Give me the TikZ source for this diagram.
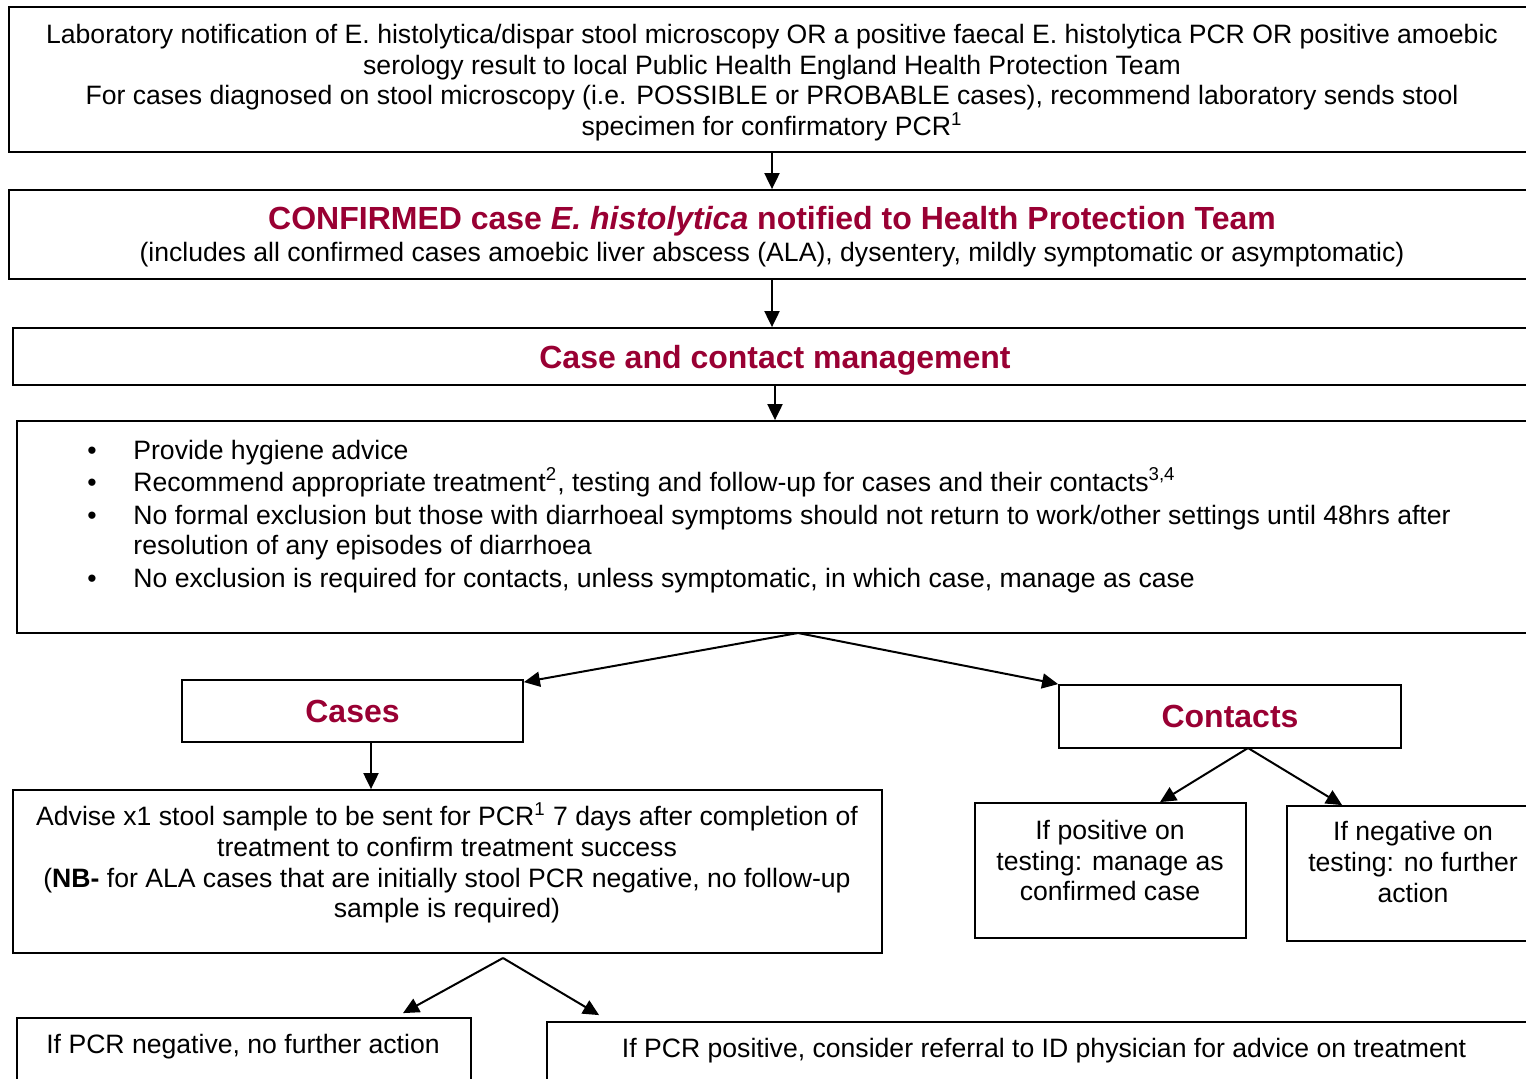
\documentclass[tikz,border=0pt]{standalone}
\usepackage{fontspec}
\setmainfont{Liberation Sans}
\usepackage{tikz}
\usetikzlibrary{arrows.meta}
\definecolor{phered}{RGB}{153,0,51}

\begin{document}
\begin{tikzpicture}[x=0.5pt,y=-0.5pt,
        font=\fontsize{13.3}{15.35}\selectfont,
        box/.style={draw,line width=0.9pt,inner sep=0pt,align=center},
        head/.style={font=\fontsize{16}{19}\selectfont\bfseries,text=phered},
        flow/.style={-{Triangle[length=8pt,width=7.5pt]},line width=1pt}]

        \useasboundingbox (0,0) rectangle (1526,1078);
        \clip (0,0) rectangle (1526,1078);

        \node[box,minimum width=763pt,minimum height=72.5pt] (lab) at (772,79.5) {\rule{0pt}{12.7pt}Laboratory notification of E. histolytica/dispar stool microscopy OR a positive faecal E. histolytica PCR OR positive amoebic\\
            serology result to local Public Health England Health Protection Team\\
            For cases diagnosed on stool microscopy (i.e. POSSIBLE or PROBABLE cases), recommend laboratory sends stool\\
            specimen for confirmatory PCR\textsuperscript{1}};
        \node[box,minimum width=763pt,minimum height=44.5pt] (conf) at (772,234.5) {{\fontsize{16}{19}\selectfont\bfseries\color{phered}\rule{0pt}{14pt}CONFIRMED case \textit{E. histolytica} notified to Health Protection Team}\\[0.5pt]
            (includes all confirmed cases amoebic liver abscess (ALA), dysentery, mildly symptomatic or asymptomatic)};
        \node[box,head,text depth=0pt,minimum width=762pt,minimum height=28.5pt] (mgmt) at (775,356.5) {Case and contact management};

        \node[box,minimum width=756.5pt,minimum height=106pt] (advice) at (773.5,527) {};
        \node[anchor=north west,align=left,inner sep=0pt] (advtext) at (87,440) {%
            \makebox[23pt][l]{\textbullet}Provide hygiene advice\\[0.5pt]
            \makebox[23pt][l]{\textbullet}Recommend appropriate treatment\textsuperscript{2}, testing and follow-up for cases and their contacts\textsuperscript{3,4}\\[1pt]
            \makebox[23pt][l]{\textbullet}No formal exclusion but those with diarrhoeal symptoms should not return to work/other settings until 48hrs after\\
            \hspace*{23pt}resolution of any episodes of diarrhoea\\[1pt]
            \makebox[23pt][l]{\textbullet}No exclusion is required for contacts, unless symptomatic, in which case, manage as case};

        \node[box,head,minimum width=170.5pt,minimum height=31pt] (cases) at (352.5,711) {Cases};
        \node[box,head,minimum width=171pt,minimum height=31.5pt] (contacts) at (1230,716.5) {Contacts};

        \node[box,minimum width=434.5pt,minimum height=81.5pt] (followup) at (447.5,871.5) {};
        \node[align=center,inner sep=0pt] (followtext) at (447,863) {Advise x1 stool sample to be sent for PCR\textsuperscript{1} 7 days after completion of\\
            treatment to confirm treatment success\\
            (\textbf{NB-} for ALA cases that are initially stool PCR negative, no follow-up\\
            sample is required)};

        \node[box,minimum width=135.5pt,minimum height=67.5pt] (pos) at (1110.5,870.5) {};
        \node[align=center,inner sep=0pt] (postext) at (1110,860.5) {If positive on\\ testing: manage as\\ confirmed case};
        \node[box,minimum width=126pt,minimum height=67.5pt] (neg) at (1413,873.5) {};
        \node[align=center,inner sep=0pt] (negtext) at (1413,862) {If negative on\\ testing: no further\\ action};

        \node[box,minimum width=227pt,minimum height=46pt] (pcrneg) at (244,1064) {};
        \node[inner sep=0pt] (pcrnegtext) at (243,1047) {If PCR negative, no further action};
        \node[box,minimum width=497pt,minimum height=44pt] (pcrpos) at (1044,1066) {};
        \node[inner sep=0pt] (pcrpostext) at (1044,1051) {If PCR positive, consider referral to ID physician for advice on treatment};

        \coordinate (split) at (798,633);
        \coordinate (csplit) at (1248,748);
        \coordinate (fsplit) at (503,958);

        \draw[flow] (lab.south) -- (conf.north);
        \draw[flow] (conf.south) -- (conf.south |- mgmt.north);
        \draw[flow] (mgmt.south) -- (mgmt.south |- advice.north);
        \draw[flow] (split) -- ([yshift=-1.5pt]cases.north east);
        \draw[flow] (split) -- (contacts.north west);
        \draw[flow] ([xshift=9.25pt]cases.south) -- ([xshift=9.25pt]cases.south |- followup.north);
        \draw[flow] (csplit) -- ([xshift=24.75pt]pos.north);
        \draw[flow] (csplit) -- ([xshift=28pt]neg.north west);
        \draw[flow] (fsplit) -- ([xshift=79.5pt,yshift=2pt]pcrneg.north);
        \draw[flow] (fsplit) -- ([xshift=26.5pt,yshift=3pt]pcrpos.north west);

    \end{tikzpicture}
\end{document}
